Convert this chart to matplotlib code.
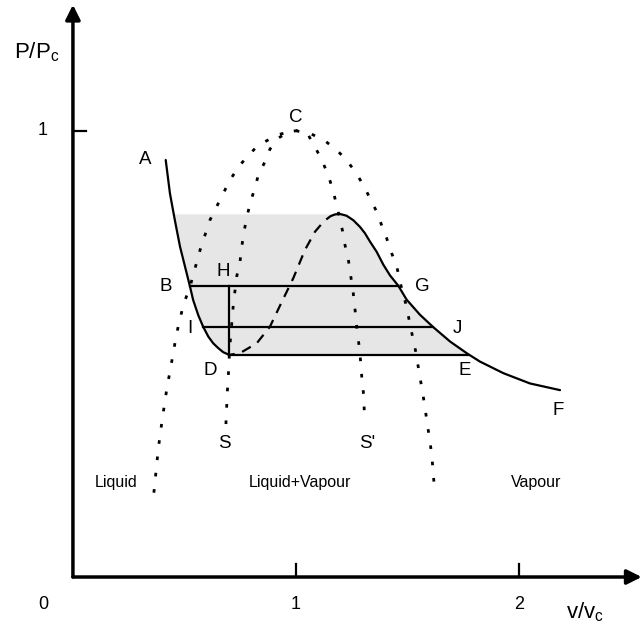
import numpy as np
import matplotlib
matplotlib.use('Agg')
import matplotlib.pyplot as plt

plt.rcParams['font.family'] = ['Liberation Sans', 'DejaVu Sans']

# isotherm, liquid side (A -> D)
isoLeftV = [0.416, 0.435, 0.457, 0.480, 0.525, 0.539, 0.562, 0.584, 0.607, 0.629,
            0.652, 0.674, 0.701]
isoLeftP = [0.935, 0.860, 0.800, 0.741, 0.651, 0.621, 0.587, 0.561, 0.539, 0.524,
            0.513, 0.504, 0.498]
# unstable part of the loop (D -> local max)
isoMidV = [0.701, 0.749, 0.824, 0.883, 0.928, 0.988, 1.040, 1.085, 1.126, 1.155, 1.175]
isoMidP = [0.498, 0.502, 0.524, 0.561, 0.608, 0.670, 0.733, 0.774, 0.798, 0.809, 0.813]
# isotherm, vapour side (local max -> F)
isoRightV = [1.175, 1.197, 1.227, 1.257, 1.287, 1.309, 1.332, 1.362, 1.392, 1.422,
             1.459, 1.496, 1.556, 1.616, 1.691, 1.765, 1.825, 1.930, 2.049, 2.184]
isoRightP = [0.813, 0.814, 0.810, 0.800, 0.785, 0.771, 0.752, 0.729, 0.700, 0.676,
             0.653, 0.622, 0.588, 0.560, 0.528, 0.502, 0.483, 0.457, 0.434, 0.419]

# coexistence curve (through B, C, G)
binodalV = [0.363, 0.383, 0.400, 0.420, 0.443, 0.465, 0.495, 0.525, 0.570, 0.614,
            0.652, 0.704, 0.749, 0.824, 0.913, 0.996, 1.070, 1.130, 1.183, 1.227,
            1.269, 1.302, 1.332, 1.362, 1.384, 1.407, 1.429, 1.452, 1.470, 1.496,
            1.511, 1.538, 1.548, 1.571, 1.591, 1.609, 1.619]
binodalP = [0.189, 0.289, 0.352, 0.419, 0.483, 0.546, 0.610, 0.651, 0.733, 0.800,
            0.838, 0.890, 0.924, 0.965, 0.991, 1.001, 0.993, 0.978, 0.957, 0.935,
            0.906, 0.879, 0.849, 0.819, 0.789, 0.759, 0.726, 0.696, 0.655, 0.606,
            0.567, 0.503, 0.472, 0.404, 0.337, 0.274, 0.210]

# spinodal curve (S -> C -> S')
spinodalV = [0.686, 0.692, 0.700, 0.701, 0.707, 0.719, 0.734, 0.749, 0.764, 0.779,
             0.794, 0.816, 0.831, 0.861, 0.883, 0.921, 0.958, 1.003, 1.055, 1.085,
             1.115, 1.142, 1.163, 1.179, 1.194, 1.208, 1.220, 1.235, 1.245, 1.257,
             1.269, 1.275, 1.284, 1.290, 1.295, 1.302, 1.309]
spinodalP = [0.343, 0.412, 0.479, 0.498, 0.539, 0.610, 0.673, 0.707, 0.767, 0.804,
             0.838, 0.872, 0.901, 0.931, 0.959, 0.984, 0.996, 1.001, 0.991, 0.965,
             0.935, 0.905, 0.872, 0.841, 0.809, 0.778, 0.744, 0.711, 0.677, 0.636,
             0.580, 0.546, 0.516, 0.483, 0.449, 0.415, 0.348]

# tie lines: (pressure, v_left, v_right)
tieLines = [(0.653, 0.525, 1.459), (0.560, 0.585, 1.616), (0.497, 0.701, 1.771)]
hV, hP0, hP1 = 0.701, 0.497, 0.653

pointLabels = {'A': (0.323, 0.935), 'B': (0.417, 0.652), 'C': (1.0, 1.031),
               'D': (0.614, 0.464), 'E': (1.758, 0.464), 'F': (2.175, 0.374),
               'G': (1.565, 0.652), 'H': (0.673, 0.684), 'I': (0.525, 0.558),
               'J': (1.722, 0.558), 'S': (0.677, 0.300), "S'": (1.318, 0.300)}
regionLabels = {'Liquid': (0.193, 0.213), 'Liquid+Vapour': (1.018, 0.213),
                'Vapour': (2.076, 0.213)}
xTicks = [1, 2]
yTicks = [1]

fig = plt.figure(figsize=(6.43, 6.25), dpi=100)
ax = fig.add_axes([0, 0, 1, 1])
ax.set_xlim(-0.327, 2.556)
ax.set_ylim(-0.1076, 1.2937)
ax.axis('off')

# shaded region under the top of the loop
topP = isoMidP[-1]
lv = np.array(isoLeftV)
lp = np.array(isoLeftP)
keep = lp <= topP
topLeftV = np.interp(topP, lp[::-1], lv[::-1])
rv = np.array(isoRightV)
rp = np.array(isoRightP)
keepR = rp >= tieLines[2][0]
polyV = [topLeftV, isoRightV[0]] + list(rv[keepR]) + [tieLines[2][2], tieLines[2][1]] \
    + list(lv[keep][::-1])
polyP = [topP, topP] + list(rp[keepR]) + [tieLines[2][0], tieLines[2][0]] \
    + list(lp[keep][::-1])
ax.fill(polyV, polyP, color='#e6e6e6', lw=0, zorder=1)

dotStyle = dict(color='k', lw=2.0, ls=(0, (1.3, 4.6)), zorder=2)
ax.plot(binodalV, binodalP, **dotStyle)
ax.plot(spinodalV, spinodalP, **dotStyle)

ax.plot(isoLeftV, isoLeftP, color='k', lw=1.6, zorder=3, solid_capstyle='round')
ax.plot(isoRightV, isoRightP, color='k', lw=1.6, zorder=3, solid_capstyle='round')
ax.plot(isoMidV, isoMidP, color='k', lw=1.6, ls=(2, (4.5, 3.5)), zorder=3)

for p, v0, v1 in tieLines:
  ax.plot([v0, v1], [p, p], color='k', lw=1.6, zorder=3)
ax.plot([hV, hV], [hP0, hP1], color='k', lw=1.6, zorder=3)

# axes with arrow heads
ax.annotate('', xy=(2.55, 0), xytext=(0, 0),
            arrowprops=dict(arrowstyle='-|>', lw=2.5, color='k',
                            mutation_scale=22, shrinkA=0, shrinkB=0))
ax.annotate('', xy=(0, 1.283), xytext=(0, 0),
            arrowprops=dict(arrowstyle='-|>', lw=2.5, color='k',
                            mutation_scale=22, shrinkA=0, shrinkB=0))
for xt in xTicks:
  ax.plot([xt, xt], [0, 0.03], color='k', lw=1.6)
  ax.text(xt, -0.061, str(xt), ha='center', va='center', fontsize=13)
for yt in yTicks:
  ax.plot([0, 0.06], [yt, yt], color='k', lw=1.6)
  ax.text(-0.135, yt, str(yt), ha='center', va='center', fontsize=13)
ax.text(-0.135, -0.061, '0', ha='center', va='center', fontsize=13)

ax.text(-0.161, 1.177, r'P/P$_\mathregular{c}$', ha='center', va='center', fontsize=16)
ax.text(2.296, -0.078, r'v/v$_\mathregular{c}$', ha='center', va='center', fontsize=16)

for lbl, (x, y) in pointLabels.items():
  ax.text(x, y, lbl, ha='center', va='center', fontsize=13.5)
for lbl, (x, y) in regionLabels.items():
  ax.text(x, y, lbl, ha='center', va='center', fontsize=11.5)

fig.savefig('out.png', dpi=100)
